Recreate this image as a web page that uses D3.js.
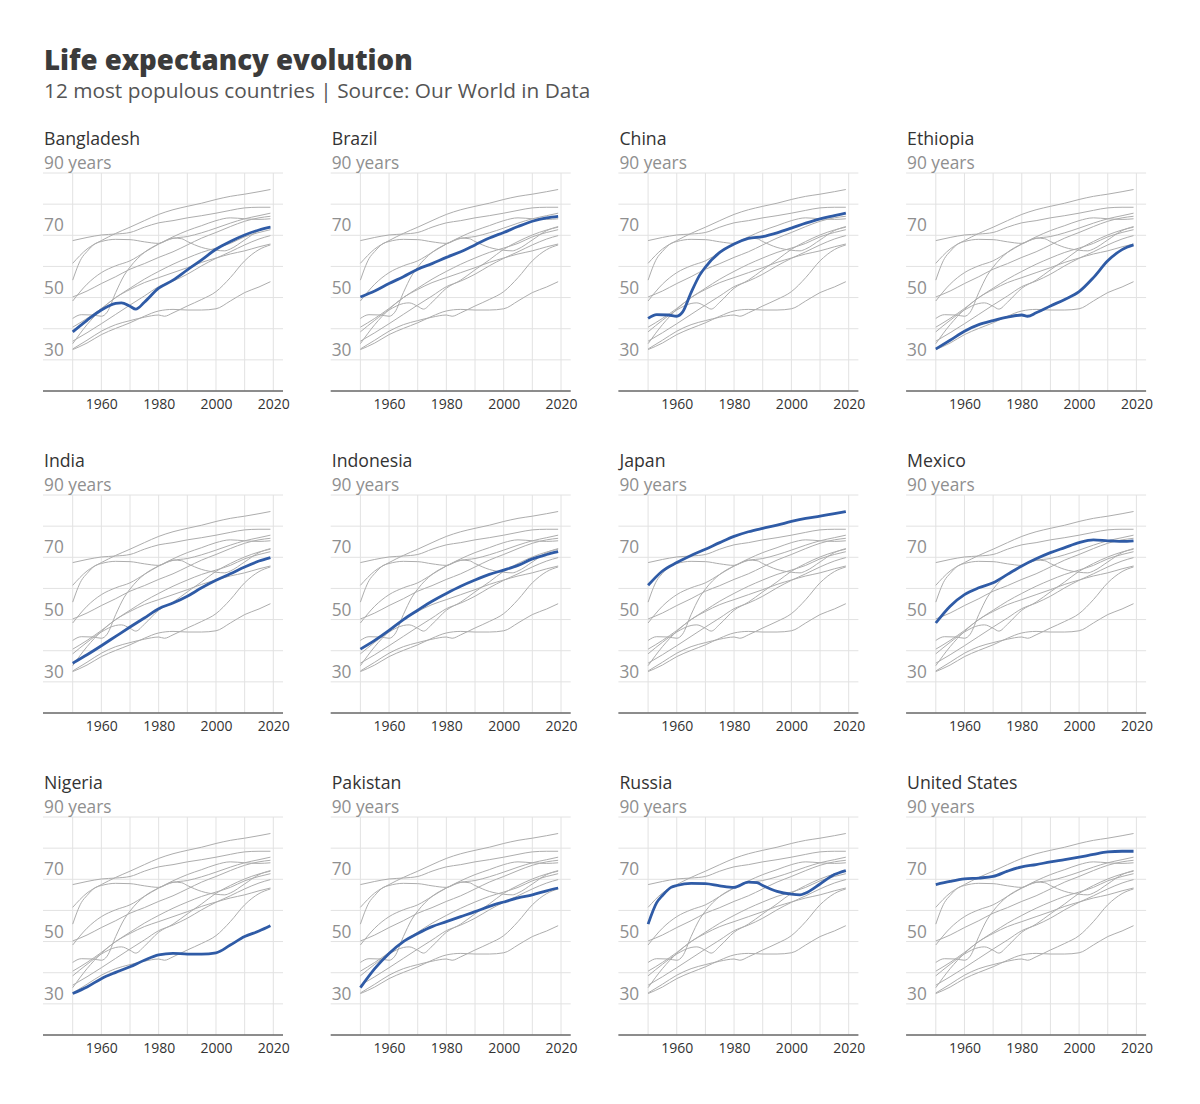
<!DOCTYPE html>
<html lang="en">
<head>
<meta charset="UTF-8">
<title>Life expectancy evolution</title>
<script src="https://cdn.jsdelivr.net/npm/d3@7"></script>
<style>
  body { margin: 0; background: #fff; font-family: "Open Sans", sans-serif; }
  .title { font-size: 27.6px; font-weight: 800; fill: #3b3b3b; }
  .subtitle { font-size: 20.8px; fill: #555; }
  .country { font-size: 17.7px; fill: #333; }
  .ylab { font-size: 17.3px; fill: #8f8f8f; }
  .grid line { stroke: #e2e2e2; stroke-width: 1; }
  .xaxis text { font-size: 14px; fill: #333; font-family: "Open Sans", sans-serif; }
  .baseline { stroke: #6b6b6b; stroke-width: 1.6; }
  .other { fill: none; stroke: #adadad; stroke-width: 1; }
  .focus { fill: none; stroke: #2f5ba6; stroke-width: 2.8; }
</style>
</head>
<body>
<div id="chart"></div>
<script>
// life expectancy, [year, years]
const bangladesh = [[1950,39.0],[1955,42.7],[1960,46.0],[1965,48.1],[1967,48.3],[1970,47.2],[1972,46.3],[1975,48.5],[1980,53.0],[1985,55.6],[1990,58.9],[1995,62.1],[2000,65.5],[2005,68.0],[2010,70.1],[2015,71.7],[2019,72.6]];
const brazil = [[1950,50.2],[1955,52.1],[1960,54.5],[1965,56.7],[1970,59.1],[1975,60.9],[1980,62.9],[1985,64.7],[1990,66.9],[1995,69.1],[2000,70.9],[2005,72.8],[2010,74.5],[2015,75.6],[2019,76.1]];
const china = [[1950,43.3],[1953,44.5],[1957,44.4],[1960,44.0],[1962,45.3],[1965,51.6],[1968,57.2],[1970,59.8],[1975,64.5],[1980,67.2],[1985,69.0],[1990,69.6],[1995,70.8],[2000,72.3],[2005,73.9],[2010,75.3],[2015,76.3],[2019,77.1]];
const ethiopia = [[1950,33.5],[1955,36.3],[1960,39.2],[1965,41.3],[1970,42.6],[1975,43.7],[1980,44.4],[1982,44.0],[1985,45.1],[1990,47.3],[1995,49.4],[2000,51.9],[2005,56.4],[2010,61.8],[2015,65.4],[2019,66.9]];
const india = [[1950,36.0],[1955,38.7],[1960,41.6],[1965,44.6],[1970,47.6],[1975,50.5],[1980,53.5],[1985,55.3],[1990,57.5],[1995,60.2],[2000,62.6],[2005,64.7],[2010,66.9],[2015,68.8],[2019,69.9]];
const indonesia = [[1950,40.5],[1955,43.3],[1960,46.5],[1965,50.0],[1970,53.0],[1975,55.9],[1980,58.4],[1985,60.7],[1990,62.7],[1995,64.5],[2000,65.9],[2005,67.4],[2010,69.5],[2015,70.9],[2019,71.8]];
const japan = [[1950,61.0],[1955,65.6],[1960,68.3],[1965,70.6],[1970,72.6],[1975,74.7],[1980,76.7],[1985,78.2],[1990,79.3],[1995,80.3],[2000,81.5],[2005,82.5],[2010,83.2],[2015,84.0],[2019,84.7]];
const mexico = [[1950,48.9],[1955,54.3],[1960,58.0],[1965,60.2],[1970,61.8],[1975,64.5],[1980,67.2],[1985,69.5],[1990,71.5],[1995,73.1],[2000,74.7],[2005,75.6],[2010,75.3],[2015,75.1],[2019,75.3]];
const nigeria = [[1950,33.3],[1955,35.4],[1960,38.1],[1965,40.1],[1970,41.9],[1975,44.0],[1980,45.7],[1985,46.2],[1990,46.0],[1995,46.0],[2000,46.4],[2005,48.9],[2010,51.6],[2015,53.4],[2019,55.1]];
const pakistan = [[1950,35.2],[1955,41.3],[1960,46.2],[1965,50.0],[1970,52.6],[1975,54.8],[1980,56.4],[1985,58.0],[1990,59.6],[1995,61.3],[2000,62.7],[2005,64.0],[2010,65.0],[2015,66.3],[2019,67.2]];
const russia = [[1950,55.6],[1953,62.5],[1955,64.8],[1958,67.4],[1960,68.0],[1965,68.7],[1970,68.6],[1975,67.9],[1980,67.4],[1985,69.1],[1988,68.9],[1990,68.0],[1995,66.1],[2000,65.2],[2003,65.0],[2005,65.6],[2010,68.5],[2015,71.5],[2019,72.8]];
const unitedStates = [[1950,68.3],[1955,69.3],[1960,70.1],[1965,70.4],[1970,70.9],[1975,72.6],[1980,74.0],[1985,74.7],[1990,75.6],[1995,76.3],[2000,77.1],[2005,78.0],[2010,78.8],[2015,79.0],[2019,79.0]];

const countries = ["Bangladesh", "Brazil", "China", "Ethiopia", "India", "Indonesia",
                   "Japan", "Mexico", "Nigeria", "Pakistan", "Russia", "United States"];
const seriesList = [bangladesh, brazil, china, ethiopia, india, indonesia,
                    japan, mexico, nigeria, pakistan, russia, unitedStates];
const gridYears = [1950, 1960, 1970, 1980, 1990, 2000, 2010, 2020];
const yearLabels = [1960, 1980, 2000, 2020];
const gridValues = [20, 30, 40, 50, 60, 70, 80, 90];
const valueLabels = [30, 50, 70, 90];

const width = 1200, height = 1104;
const left0 = 44, colStep = 287.7, top0 = 145, rowStep = 322;

const svg = d3.select("#chart").append("svg")
    .attr("width", width)
    .attr("height", height);

svg.append("rect").attr("width", width).attr("height", height).attr("fill", "#fff");

svg.append("text").attr("class", "title")
    .attr("x", left0).attr("y", 70)
    .text("Life expectancy evolution");
svg.append("text").attr("class", "subtitle")
    .attr("x", left0).attr("y", 98)
    .text("12 most populous countries | Source: Our World in Data");

// panel scales (relative to panel origin = country label baseline)
const x = d3.scaleLinear().domain([1950, 2020]).range([28.7, 229.3]);
const y = d3.scaleLinear().domain([20, 90]).range([246, 28]);
const gridLeft = -1, gridRight = 239;

const line = d3.line()
    .x(d => x(d[0]))
    .y(d => y(d[1]))
    .curve(d3.curveMonotoneX);

countries.forEach((name, i) => {
    const col = i % 4, row = Math.floor(i / 4);
    const g = svg.append("g")
        .attr("transform", `translate(${left0 + col * colStep},${top0 + row * rowStep})`);

    g.append("text").attr("class", "country").attr("x", 0).attr("y", 0).text(name);

    const grid = g.append("g").attr("class", "grid");
    grid.selectAll(".h").data(gridValues).join("line")
        .attr("x1", gridLeft).attr("x2", gridRight)
        .attr("y1", d => y(d)).attr("y2", d => y(d));
    grid.selectAll(".v").data(gridYears).join("line")
        .attr("x1", d => x(d)).attr("x2", d => x(d))
        .attr("y1", y(90)).attr("y2", y(20));

    g.selectAll(".ylab").data(valueLabels).join("text")
        .attr("class", "ylab")
        .attr("x", 0)
        .attr("y", d => y(d) - 4)
        .text(d => d === 90 ? "90 years" : d);

    seriesList.forEach((s, j) => {
        if (j === i) return;
        g.append("path").attr("class", "other").attr("d", line(s));
    });
    g.append("path").attr("class", "focus").attr("d", line(seriesList[i]));

    g.append("line").attr("class", "baseline")
        .attr("x1", gridLeft).attr("x2", gridRight)
        .attr("y1", y(20)).attr("y2", y(20));

    const xAxis = d3.axisBottom(x)
        .tickValues(yearLabels)
        .tickFormat(d3.format("d"))
        .tickSize(0)
        .tickPadding(8);
    g.append("g").attr("class", "xaxis")
        .attr("transform", `translate(0,${y(20)})`)
        .call(xAxis)
        .call(a => a.select(".domain").remove());
});
</script>
</body>
</html>
